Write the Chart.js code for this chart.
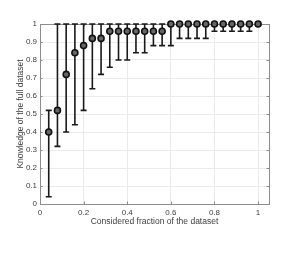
<!DOCTYPE html>
<html>
<head>
<meta charset="utf-8">
<script src="https://cdn.jsdelivr.net/npm/chart.js@4"></script>
<style>
  html, body { margin: 0; padding: 0; background: #fff; }
  #wrap { width: 299px; height: 255px; }
</style>
</head>
<body>
<div id="wrap"><canvas id="cv" width="299" height="255"></canvas></div>
<script>
// considered fraction of the dataset
const fractions = [0.04, 0.08, 0.12, 0.16, 0.20, 0.24, 0.28, 0.32, 0.36, 0.40, 0.44, 0.48, 0.52,
                   0.56, 0.60, 0.64, 0.68, 0.72, 0.76, 0.80, 0.84, 0.88, 0.92, 0.96, 1.00];
// knowledge of the full dataset (marker)
const means = [0.40, 0.52, 0.72, 0.84, 0.88, 0.92, 0.92, 0.96, 0.96, 0.96, 0.96, 0.96, 0.96,
               0.96, 1.00, 1.00, 1.00, 1.00, 1.00, 1.00, 1.00, 1.00, 1.00, 1.00, 1.00];
// error bar ends
const lower = [0.04, 0.32, 0.40, 0.44, 0.52, 0.64, 0.72, 0.76, 0.80, 0.80, 0.84, 0.84, 0.88,
               0.88, 0.88, 0.92, 0.92, 0.92, 0.92, 0.96, 0.96, 0.96, 0.96, 0.96, 1.00];
const upper = [0.52, 1, 1, 1, 1, 1, 1, 1, 1, 1, 1, 1, 1,
               1, 1, 1, 1, 1, 1, 1, 1, 1, 1, 1, 1];

const xTicks = [0, 0.2, 0.4, 0.6, 0.8, 1];
const yTicks = [0, 0.1, 0.2, 0.3, 0.4, 0.5, 0.6, 0.7, 0.8, 0.9, 1];

const FONT = "'Liberation Sans', Arial, Helvetica, sans-serif";
const TXT = "#404040";
const fmt = v => String(Math.round(v * 10) / 10);

const boxAndBars = {
  id: "boxAndBars",
  beforeDatasetsDraw(chart) {
    const { ctx, chartArea: a, scales: { x, y } } = chart;
    ctx.save();
    // axes box
    ctx.strokeStyle = "#8c8c8c";
    ctx.lineWidth = 1;
    ctx.strokeRect(Math.round(a.left) + 0.5, Math.round(a.top) + 0.5,
      Math.round(a.right - a.left), Math.round(a.bottom - a.top));
    // inward ticks
    ctx.beginPath();
    xTicks.forEach(v => {
      const px = Math.round(x.getPixelForValue(v)) + 0.5;
      ctx.moveTo(px, a.bottom); ctx.lineTo(px, a.bottom - 2.5);
      ctx.moveTo(px, a.top); ctx.lineTo(px, a.top + 2.5);
    });
    yTicks.forEach(v => {
      const py = Math.round(y.getPixelForValue(v)) + 0.5;
      ctx.moveTo(a.left, py); ctx.lineTo(a.left + 2.5, py);
      ctx.moveTo(a.right, py); ctx.lineTo(a.right - 2.5, py);
    });
    ctx.stroke();
    // error bars
    ctx.strokeStyle = "#1a1a1a";
    ctx.lineWidth = 1.6;
    const cap = 3;
    fractions.forEach((f, i) => {
      const px = x.getPixelForValue(f);
      const yl = y.getPixelForValue(lower[i]);
      const yu = y.getPixelForValue(upper[i]);
      if (Math.abs(yl - yu) < 1) return;
      ctx.beginPath();
      ctx.moveTo(px, yl); ctx.lineTo(px, yu);
      ctx.moveTo(px - cap, yl); ctx.lineTo(px + cap, yl);
      ctx.moveTo(px - cap, yu); ctx.lineTo(px + cap, yu);
      ctx.stroke();
    });
    ctx.restore();
  }
};

new Chart(document.getElementById("cv"), {
  type: "scatter",
  data: {
    datasets: [{
      data: fractions.map((f, i) => ({ x: f, y: means[i] })),
      pointStyle: "circle",
      pointRadius: 3,
      pointBorderWidth: 1.6,
      pointBorderColor: "#111",
      pointBackgroundColor: "#666",
      clip: false
    }]
  },
  options: {
    responsive: false,
    animation: false,
    events: [],
    layout: { padding: { left: 0, top: 24, right: 30, bottom: 21 } },
    plugins: { legend: { display: false }, tooltip: { enabled: false } },
    scales: {
      x: {
        type: "linear",
        min: 0, max: 1.05,
        afterBuildTicks: s => { s.ticks = xTicks.map(v => ({ value: v })); },
        afterFit: s => { s.height = 30; },
        grid: { color: "#ebebeb", drawTicks: false },
        border: { display: false },
        ticks: { color: TXT, padding: 4, font: { family: FONT, size: 8 }, maxRotation: 0, callback: fmt },
        title: {
          display: true, text: "Considered fraction of the dataset", color: TXT,
          font: { family: FONT, size: 8.5 }, padding: { top: 0, bottom: 7 }
        }
      },
      y: {
        type: "linear",
        min: 0, max: 1,
        afterBuildTicks: s => { s.ticks = yTicks.map(v => ({ value: v })); },
        afterFit: s => { s.width = 40; },
        grid: { color: "#ebebeb", drawTicks: false },
        border: { display: false },
        ticks: { color: TXT, padding: 3, font: { family: FONT, size: 8 }, callback: fmt },
        title: {
          display: true, text: "Knowledge of the full dataset", color: TXT,
          font: { family: FONT, size: 8.5 }, padding: { top: 16, bottom: 0 }
        }
      }
    }
  },
  plugins: [boxAndBars]
});
</script>
</body>
</html>
